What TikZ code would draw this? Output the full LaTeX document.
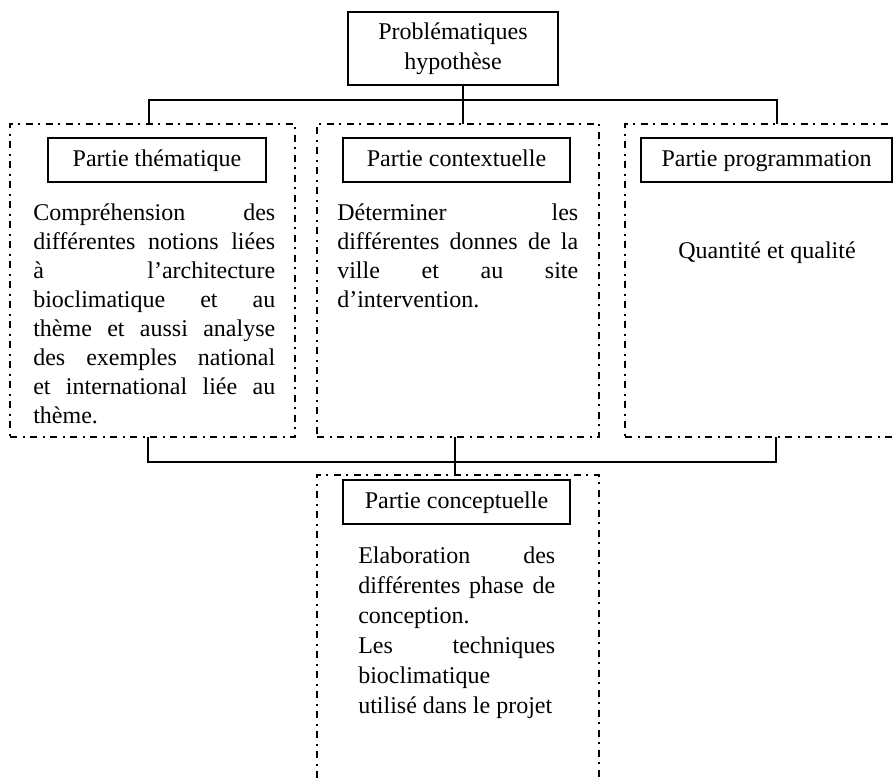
\documentclass[tikz,border=0pt]{standalone}
\usepackage{fontspec}
\setmainfont{Liberation Serif}
\usepackage{tikz}
\setlength{\parindent}{0pt}

\begin{document}
\begin{tikzpicture}[x=0.75pt,y=0.75pt,yscale=-1,xscale=1,
  zone/.style={draw,line width=1pt,dash pattern={on 5.5pt off 4pt on 1.5pt off 4pt},minimum height=234.75pt,inner sep=0pt},
  hdrbox/.style={draw,line width=1pt,minimum height=33pt,inner sep=0pt,text height=13pt,text depth=4pt,font=\fontsize{18pt}{21.75pt}\selectfont},
  body/.style={anchor=north west,inner sep=0pt,align=justify,font=\fontsize{18pt}{21.75pt}\selectfont}]
\useasboundingbox (0,0) rectangle (893,782);
\clip (0,0) rectangle (893,782);
% Shape: dashed zones
\node [zone,minimum width=213.75pt] (themz) at (152.5,280.5) {};
\node [zone,minimum width=211.5pt] (contz) at (458,280.5) {};
\node [zone,minimum width=213.75pt] (progz) at (767.5,280.5) {};
\node [zone,minimum width=211.5pt,minimum height=255pt] (concz) at (458,645) {};
% Shape: Rectangle
\node [draw,line width=1pt,minimum width=157.5pt,minimum height=54.75pt,inner sep=0pt,align=center,font=\fontsize{18pt}{22.5pt}\selectfont] (prob) at (453,48.5) {Problématiques\\hypothèse};
\node [hdrbox,minimum width=163.5pt] (them) at (157,160) {Partie thématique};
\node [hdrbox,minimum width=170.25pt] (contx) at (456.5,160) {Partie contextuelle};
\node [hdrbox,minimum width=188.25pt] (prog) at (766.5,160) {Partie programmation};
\node [hdrbox,minimum width=170.25pt] (concep) at (456.5,502) {Partie conceptuelle};
% Text Node
\node [body,text width=181.5pt] (themtxt) at (33,204) {Compréhension des\linebreak
différentes notions liées\linebreak à l’architecture\linebreak bioclimatique et au\linebreak
thème et aussi analyse\linebreak des exemples national\linebreak et international liée au\linebreak thème.};
% Text Node
\node [body,text width=180.75pt] (contxtxt) at (337,204) {Déterminer les\linebreak
différentes donnes de la\linebreak ville et au site\linebreak d’intervention.};
% Text Node
\node [font=\fontsize{18pt}{21.75pt}\selectfont,inner sep=0pt] (progtxt) at (767,253) {Quantité et qualité};
% Text Node
\node [body,text width=147.75pt,font=\fontsize{18pt}{22.5pt}\selectfont] (conctxt) at (358,547) {Elaboration des\linebreak
différentes phase de\linebreak conception.\par Les techniques\linebreak bioclimatique\par utilisé dans le projet};
% Straight Lines
\coordinate (tL) at (149,124);
\coordinate (tM) at (463,124);
\coordinate (tR) at (777,124);
\draw [line width=1pt] (prob.south -| tM) -- (tM);
\draw [line width=1pt] (tL) -- ++(0,-24) -| (tR);
% Straight Lines
\coordinate (bL) at (148,437);
\coordinate (bM) at (455,437);
\coordinate (bR) at (776,437);
\draw [line width=1pt] (bL) -- ++(0,25) -| (bR);
\draw [line width=1pt] (bM) -- (bM |- concz.north);
\end{tikzpicture}
\end{document}
